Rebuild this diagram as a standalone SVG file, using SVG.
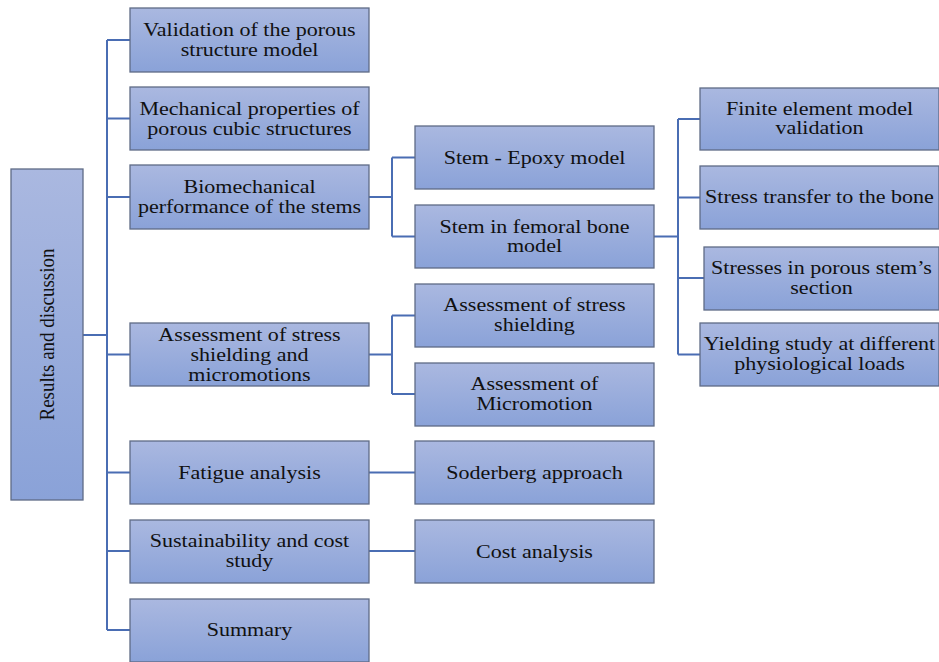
<svg xmlns="http://www.w3.org/2000/svg" width="939" height="662" viewBox="0 0 939 662">
<defs>
<linearGradient id="g" x1="0" y1="0" x2="0" y2="1">
<stop offset="0" stop-color="#aab8e0"/>
<stop offset="1" stop-color="#8aa2d8"/>
</linearGradient>
<style>
.b{fill:url(#g);stroke:#5f6b86;stroke-width:1.3}
.t{font-family:"Liberation Serif","Times New Roman",serif;font-size:19px;fill:#111;text-anchor:middle}
.c{fill:none;stroke:#4a6db3;stroke-width:2}
</style>
</defs>
<rect width="939" height="662" fill="#fff"/>
<g id="connectors">
<path class="c" d="M83 335H107M107 40V630M107 40H130M107 118.5H130M107 197H130M107 354.5H130M107 472.5H130M107 551H130M107 630H130"/>
<path class="c" d="M369 197H392M392 157.5V236.5M392 157.5H415M392 236.5H415"/>
<path class="c" d="M369 354.5H392M392 315.5V394M392 315.5H415M392 394H415"/>
<path class="c" d="M369 472.5H415M369 551H415"/>
<path class="c" d="M654 236.5H678M678 119V354.5M678 119H700M678 197.5H700M678 278H704M678 354.5H700"/>
</g>
<g id="root"><rect class="b" x="11" y="169" width="72" height="331"/><text class="t" transform="matrix(0 -1 1.15 0 53.5 334.5)">Results and discussion</text></g>
<g id="n1"><rect class="b" x="130" y="8" width="239" height="64"/><text class="t" transform="matrix(1.16 0 0 1 249.5 36)">Validation of the porous</text><text class="t" transform="matrix(1.16 0 0 1 249.5 56)">structure model</text></g>
<g id="n2"><rect class="b" x="130" y="87" width="239" height="63"/><text class="t" transform="matrix(1.16 0 0 1 249.5 115)">Mechanical properties of</text><text class="t" transform="matrix(1.16 0 0 1 249.5 135)">porous cubic structures</text></g>
<g id="n3"><rect class="b" x="130" y="165" width="239" height="64"/><text class="t" transform="matrix(1.16 0 0 1 249.5 193)">Biomechanical</text><text class="t" transform="matrix(1.16 0 0 1 249.5 213)">performance of the stems</text></g>
<g id="n4"><rect class="b" x="130" y="323" width="239" height="63"/><text class="t" transform="matrix(1.16 0 0 1 249.5 341)">Assessment of stress</text><text class="t" transform="matrix(1.16 0 0 1 249.5 361)">shielding and</text><text class="t" transform="matrix(1.16 0 0 1 249.5 381)">micromotions</text></g>
<g id="n5"><rect class="b" x="130" y="441" width="239" height="63"/><text class="t" transform="matrix(1.16 0 0 1 249.5 479)">Fatigue analysis</text></g>
<g id="n6"><rect class="b" x="130" y="520" width="239" height="63"/><text class="t" transform="matrix(1.16 0 0 1 249.5 547)">Sustainability and cost</text><text class="t" transform="matrix(1.16 0 0 1 249.5 567)">study</text></g>
<g id="n7"><rect class="b" x="130" y="599" width="239" height="63"/><text class="t" transform="matrix(1.16 0 0 1 249.5 636)">Summary</text></g>
<g id="c1"><rect class="b" x="415" y="126" width="239" height="63"/><text class="t" transform="matrix(1.16 0 0 1 534.5 164)">Stem - Epoxy model</text></g>
<g id="c2"><rect class="b" x="415" y="205" width="239" height="63"/><text class="t" transform="matrix(1.16 0 0 1 534.5 232.5)">Stem in femoral bone</text><text class="t" transform="matrix(1.16 0 0 1 534.5 252)">model</text></g>
<g id="c3"><rect class="b" x="415" y="284" width="239" height="63"/><text class="t" transform="matrix(1.16 0 0 1 534.5 311)">Assessment of stress</text><text class="t" transform="matrix(1.16 0 0 1 534.5 331)">shielding</text></g>
<g id="c4"><rect class="b" x="415" y="363" width="239" height="63"/><text class="t" transform="matrix(1.16 0 0 1 534.5 390)">Assessment of</text><text class="t" transform="matrix(1.16 0 0 1 534.5 410)">Micromotion</text></g>
<g id="c5"><rect class="b" x="415" y="441" width="239" height="63"/><text class="t" transform="matrix(1.16 0 0 1 534.5 479)">Soderberg approach</text></g>
<g id="c6"><rect class="b" x="415" y="520" width="239" height="63"/><text class="t" transform="matrix(1.16 0 0 1 534.5 557.5)">Cost analysis</text></g>
<g id="d1"><rect class="b" x="700" y="88" width="239" height="62"/><text class="t" transform="matrix(1.16 0 0 1 819.5 115)">Finite element model</text><text class="t" transform="matrix(1.16 0 0 1 819.5 134)">validation</text></g>
<g id="d2"><rect class="b" x="700" y="166" width="239" height="63"/><text class="t" transform="matrix(1.16 0 0 1 819.5 203)">Stress transfer to the bone</text></g>
<g id="d3"><rect class="b" x="704" y="247" width="235" height="63"/><text class="t" transform="matrix(1.16 0 0 1 821.5 274)">Stresses in porous stem’s</text><text class="t" transform="matrix(1.16 0 0 1 821.5 294)">section</text></g>
<g id="d4"><rect class="b" x="700" y="323" width="239" height="63"/><text class="t" transform="matrix(1.16 0 0 1 819.5 350)">Yielding study at different</text><text class="t" transform="matrix(1.16 0 0 1 819.5 370)">physiological loads</text></g>
</svg>
